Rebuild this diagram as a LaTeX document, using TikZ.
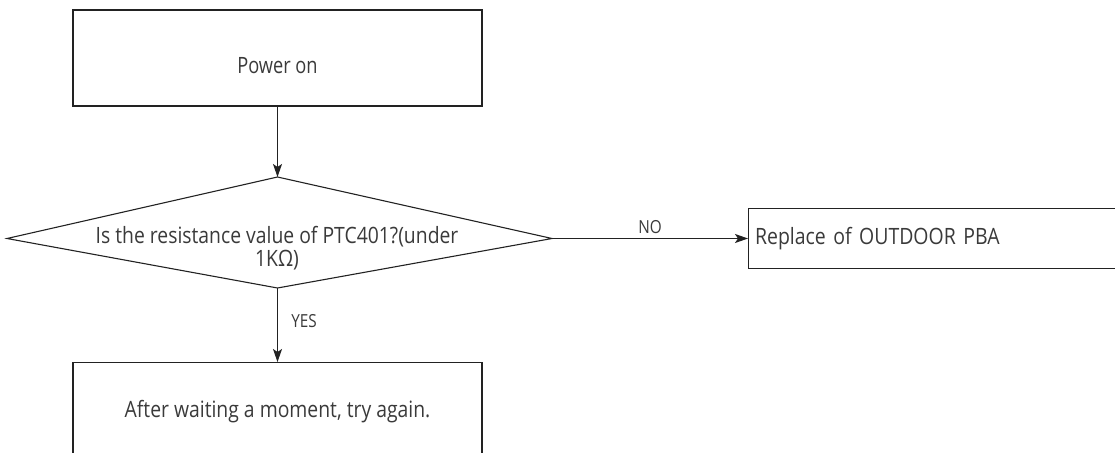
\documentclass[tikz,border=0pt]{standalone}
\usepackage{fontspec}
\setmainfont{Open Sans}[FakeStretch=0.86]
\newfontfamily\fontpow{Open Sans}[FakeStretch=0.81]
\newfontfamily\fontwide{Open Sans}[FakeStretch=0.865]
\newfontfamily\fontlbl{Open Sans}[FakeStretch=0.85]
\usetikzlibrary{arrows.meta}
\definecolor{ln}{HTML}{222222}
\definecolor{tx}{HTML}{3A3A3A}
\begin{document}
\begin{tikzpicture}[x=1pt,y=-1pt,
  box/.style={draw=ln,line width=1.1pt,rectangle,inner sep=0pt,text=tx,font=\fontsize{22.5}{26}\selectfont},
  shp/.style={draw=ln,line width=1.1pt,line join=miter},
  txt/.style={text=tx,font=\fontsize{22.5}{23}\selectfont,align=center},
  conn/.style={draw=ln,line width=1.1pt,-{Stealth[length=13pt,width=9pt,inset=3pt]}},
  lbl/.style={text=tx,font=\fontlbl\fontsize{18}{20}\selectfont}]
\useasboundingbox (0,0) rectangle (1115,452);
\clip (0,0) rectangle (1115,452);
\node[box,minimum width=409pt,minimum height=96pt] (pw) at (277.5,58) {};
\node[txt,font=\fontpow\fontsize{22.5}{23}\selectfont] (pwt) at (277.5,65.5) {Power on};
\coordinate (qn) at (277.5,177);
\coordinate (qe) at (552,238.5);
\coordinate (qs) at (277.5,288);
\coordinate (qw) at (7,238.5);
\draw[shp] (qn) -- (qe) -- (qs) -- (qw) -- cycle;
\node[txt] (qt) at (277,248) {Is the resistance value of PTC401?(under\\1KΩ)};
\node[box,minimum width=380pt,minimum height=60pt,anchor=west,text width=370pt,align=left,font=\fontwide\fontsize{22.5}{26}\selectfont] (rp) at (748,238.5) {\hspace{1.5pt}Replace of OUTDOOR PBA};
\node[box,minimum width=409pt,minimum height=130pt,anchor=north] (aw) at (277.5,362) {};
\node[txt] (awt) at (277.5,412) {After waiting a moment, try again.};
\draw[conn] (pw.south) -- (qn);
\draw[conn] (qe) -- node[lbl,above=1pt] {NO} (rp.west);
\draw[conn] (qs) -- node[lbl,right=10pt,pos=0.45] {YES} (aw.north);
\end{tikzpicture}
\end{document}
